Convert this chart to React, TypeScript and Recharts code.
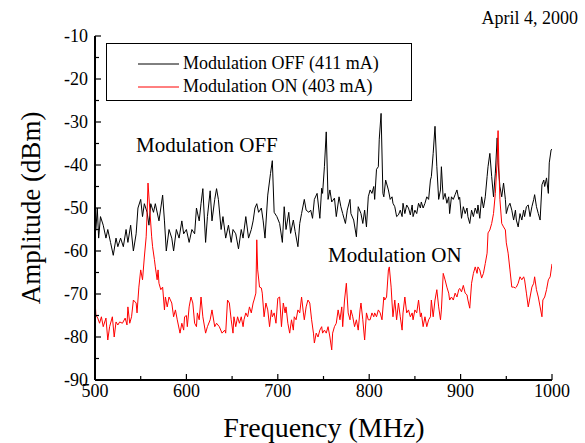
import React from "react";
import { LineChart, Line, XAxis, YAxis, Legend } from "recharts";

// spectrum, modulation off (411 mA)
const offFreq = [
  500, 501, 502.5, 504, 506, 509, 512, 514, 517, 520,
  523, 525, 528, 531, 534, 536, 539, 542, 545, 547,
  550, 552, 554, 557, 559, 561, 564, 566, 570, 574,
  576, 578, 581, 584, 586, 589, 592, 595, 597, 600,
  603, 606, 609, 611, 614, 616, 618, 621, 623, 626,
  628, 631, 633, 635, 638, 640, 643, 646, 649, 651,
  654, 657, 660, 662, 665, 668, 671, 673, 675, 677,
  679, 682, 684, 686, 689, 692, 694, 696, 699, 702,
  705, 707, 709, 712, 714, 717, 719, 722, 724, 726,
  729, 731, 734, 736, 738, 740, 743, 746, 748, 749,
  751, 753, 755, 757, 759, 762, 764, 767, 769, 771,
  774, 776, 779, 780, 783, 786, 788, 791, 793, 795,
  797, 799, 801, 803, 805, 806, 808, 810, 811, 813,
  815, 816, 818, 821, 823, 825, 826, 828, 830, 832,
  834, 836, 837, 839, 841, 843, 845, 847, 848, 850,
  852, 854, 856, 857, 859, 861, 863, 865, 867, 868,
  870, 872, 874, 876, 878, 879, 881, 883, 885, 887,
  888, 890, 892, 894, 896, 898, 899, 901, 903, 905,
  907, 908, 910, 912, 914, 916, 918, 919, 921, 923,
  925, 927, 929, 930, 932, 934, 936, 938, 940, 941,
  943, 945, 947, 949, 950, 952, 954, 956, 958, 960,
  961, 963, 965, 967, 969, 970, 972, 974, 976, 978,
  980, 981, 983, 985, 987, 989, 991, 992, 994, 996,
  997, 999, 1000,
];
const offDbm = [
  -56, -55, -50, -57, -52, -54, -57, -55, -58, -61,
  -57, -59, -57, -59, -55, -58, -54, -60, -56, -50,
  -48, -52, -49, -51, -54, -49, -51, -49, -53, -47,
  -53, -60, -55, -57, -60, -55, -57, -53, -56, -55,
  -58, -55, -56, -50, -53, -49, -45.5, -58, -52, -46,
  -53, -48, -45.5, -48, -55, -52, -57, -54, -58, -55,
  -56, -59.5, -55, -57, -52, -57, -55, -53, -50, -49,
  -51, -50, -53, -57, -47, -42, -39, -51, -52, -53.6,
  -58, -49.7, -55, -51, -55.9, -52.8, -55.5, -59, -53.6, -51.3,
  -48, -50.5, -51, -50.5, -52.4, -48, -46.6, -52.4, -45.4, -46.6,
  -40.4, -32.3, -48, -45.8, -48.6, -47.7, -52, -47.4, -49.7, -51.3,
  -53.6, -50.5, -48, -51.3, -52.8, -56.7, -49.7, -51.3, -53.6, -50.5,
  -54.4, -47.4, -45.8, -46.6, -45, -48, -41, -40.4, -34, -28,
  -46.6, -47.4, -43.5, -45.8, -48, -47.4, -48.9, -49.7, -52, -51.6,
  -50.5, -52, -48.9, -51.3, -49.3, -50, -51.6, -49.3, -52, -50.5,
  -51.3, -48.9, -50, -48.6, -50, -48.9, -47.4, -48, -43.5, -42.7,
  -37.3, -31, -40.4, -48, -45.8, -40.4, -48, -46.6, -48.9, -47.4,
  -51.3, -47.4, -48, -46.9, -45.8, -48, -47.5, -52.4, -49.7, -51.3,
  -50, -52, -53.6, -50.5, -52, -50, -51.3, -49.3, -52.4, -47.4,
  -50, -47.4, -42.7, -40.4, -37.3, -42.7, -47.4, -41.9, -33.7, -39.5,
  -45, -47.4, -44.2, -48, -51.3, -49.7, -48.9, -50.5, -52.8, -50.5,
  -52.8, -54.4, -51.3, -52.8, -50.5, -52, -49.7, -49.3, -52, -49.7,
  -48, -46.9, -49.7, -51.3, -52.8, -44.6, -43.5, -45, -43, -46.6,
  -39.5, -36.5, -36.3,
];

// spectrum, modulation on (403 mA)
const onFreq = [
  500, 501, 503, 505, 507, 509, 512, 514, 516, 519,
  521, 523, 525, 527, 530, 533, 535, 536, 538, 540,
  542, 545, 546, 548, 550, 552, 554, 556, 557, 558,
  560, 562, 563, 565, 566, 568, 569, 570, 572, 574,
  576, 577, 579, 581, 584, 586, 588, 590, 593, 595,
  597, 598, 600, 601, 603, 605, 607, 609, 611, 612,
  614, 616, 618, 621, 623, 626, 628, 631, 633, 636,
  639, 642, 643, 645, 647, 649, 651, 652, 654, 656,
  658, 660, 662, 663, 665, 667, 669, 671, 673, 674,
  676, 677, 678, 680, 682, 683, 685, 687, 689, 691,
  693, 694, 696, 698, 700, 702, 704, 706, 708, 709,
  711, 713, 715, 717, 718, 720, 722, 724, 726, 728,
  729, 731, 733, 735, 737, 739, 740, 742, 744, 746,
  748, 749, 751, 753, 755, 757, 759, 760, 762, 764,
  766, 768, 770, 771, 773, 775, 777, 779, 780, 782,
  784, 786, 788, 790, 791, 793, 795, 797, 799, 801,
  803, 805, 806, 808, 810, 812, 814, 816, 817, 819,
  821, 822, 824, 825, 826, 828, 830, 832, 834, 836,
  837, 839, 841, 843, 845, 847, 848, 850, 852, 854,
  856, 857, 859, 861, 863, 865, 867, 868, 870, 872,
  874, 876, 878, 879, 881, 883, 885, 887, 888, 890,
  892, 894, 896, 898, 899, 901, 903, 905, 907, 908,
  910, 912, 914, 916, 918, 919, 921, 923, 925, 927,
  929, 930, 932, 934, 936, 938, 940, 941, 942, 943,
  945, 947, 949, 950, 952, 954, 956, 958, 960, 961,
  963, 965, 967, 969, 970, 972, 974, 976, 978, 980,
  981, 983, 985, 987, 989, 990, 992, 994, 996, 998,
  1000,
];
const onDbm = [
  -71.4, -74.9, -75.6, -76.8, -75.3, -77.6, -75.6, -80.7, -77.6, -75.3,
  -80, -76.5, -77.2, -76.5, -76.8, -75.6, -77.2, -73, -76.8, -75.3,
  -71.4, -72.1, -74.4, -68.4, -64.4, -66.7, -61.4, -56.7, -51.2, -44.2,
  -50.5, -56.7, -59, -62, -63.7, -66.7, -64.4, -67.5, -69, -68.4,
  -73.7, -70.7, -73, -70.7, -72.1, -75.3, -73.7, -76, -79.1, -76.8,
  -78.4, -75.3, -75, -77.6, -73, -70.7, -72.1, -76.8, -77.6, -74.4,
  -76, -70.7, -75.3, -79.1, -77.6, -76, -73.7, -77.6, -76.8, -77.6,
  -79.1, -78.4, -79.1, -71.4, -72.1, -76, -79.1, -75.3, -77.6, -75.3,
  -76.8, -75.3, -77.6, -76, -74.4, -75.3, -73, -74.4, -72.1, -71.4,
  -69.8, -57.4, -64.4, -68.4, -68.6, -69.8, -75.3, -72.1, -73.7, -77.6,
  -73.7, -75.3, -74.4, -76.8, -71, -70.7, -77.6, -72.1, -74.4, -73,
  -76.8, -79.1, -76, -78.4, -75.3, -76, -73.7, -74.4, -70.7, -74.4,
  -76, -73, -71.4, -72.1, -76, -79.1, -81.4, -79.1, -80, -78.4,
  -77.6, -79.1, -78.4, -79.1, -77.6, -80, -83, -79.1, -77.6, -76.8,
  -73.7, -76, -73, -77.6, -71.4, -67.5, -74.4, -76, -73.7, -75.3,
  -77.6, -76, -78.4, -73.7, -72.1, -76, -80.7, -74.4, -76, -76,
  -74.4, -75.3, -74.4, -75.3, -73.7, -74.4, -76, -70.7, -71.4, -70.7,
  -64.4, -63.7, -68.4, -72.1, -75.3, -71.4, -76, -72.1, -75.3, -78.4,
  -74.4, -70.7, -74.4, -73.7, -75.3, -74.4, -76, -73.7, -74.4, -71.4,
  -75.3, -74.4, -77.6, -75.3, -77.6, -76, -75.3, -71.4, -75.3, -71.4,
  -69, -73, -76, -73.7, -65.2, -66.7, -68.4, -69.8, -71.4, -70.7,
  -71.4, -69.8, -70.7, -69, -68.7, -69.5, -68, -69.8, -70.2, -71.4,
  -73.3, -67.5, -65.2, -63.7, -65.2, -63.7, -64.4, -66.3, -65.2, -62.9,
  -60.5, -55.8, -55.1, -53.6, -51.3, -46.6, -38.9, -32, -41.2, -48,
  -53.6, -54.4, -55.1, -58.1, -60.5, -64.4, -68.4, -68.4, -68.6, -68.4,
  -67.5, -66, -66.7, -66, -66.7, -69.8, -73, -70.7, -68.4, -67.5,
  -66, -69, -70.7, -73, -75.3, -71.4, -70.7, -69, -66.7, -66,
  -63,
];

const xTicks = [500, 550, 600, 650, 700, 750, 800, 850, 900, 950, 1000];
const yTicks = [-90, -85, -80, -75, -70, -65, -60, -55, -50, -45, -40, -35, -30, -25, -20, -15, -10];

const offData = offFreq.map((f, i) => ({ f, v: offDbm[i] }));
const onData = onFreq.map((f, i) => ({ f, v: onDbm[i] }));

const FONT = '"Liberation Serif", "Times New Roman", serif';
const MAJOR = 6;
const MINOR = 4;

// ticks point into the plot on all four sides
function BottomTick(props: any) {
  const { x, y, payload } = props;
  const major = payload.value % 100 === 0;
  return (
    <g>
      <line x1={x} y1={y} x2={x} y2={y - (major ? MAJOR : MINOR)} stroke="#000" strokeWidth={1.2} />
      {major && (
        <text x={x} y={y + 17} textAnchor="middle" fontSize={18} fontFamily={FONT} fill="#000">
          {payload.value}
        </text>
      )}
    </g>
  );
}

function TopTick(props: any) {
  const { x, y, payload } = props;
  const major = payload.value % 100 === 0;
  return <line x1={x} y1={y} x2={x} y2={y + (major ? MAJOR : MINOR)} stroke="#000" strokeWidth={1.2} />;
}

function LeftTick(props: any) {
  const { x, y, payload } = props;
  const major = payload.value % 10 === 0;
  return (
    <g>
      <line x1={x} y1={y} x2={x + (major ? MAJOR : MINOR)} y2={y} stroke="#000" strokeWidth={1.2} />
      {major && (
        <text x={x - 7} y={y + 6} textAnchor="end" fontSize={18} fontFamily={FONT} fill="#000">
          {payload.value}
        </text>
      )}
    </g>
  );
}

function RightTick(props: any) {
  const { x, y, payload } = props;
  const major = payload.value % 10 === 0;
  return <line x1={x} y1={y} x2={x - (major ? MAJOR : MINOR)} y2={y} stroke="#000" strokeWidth={1.2} />;
}

function LegendBox(props: any) {
  const items = props.payload || [];
  return (
    <div
      style={{
        width: 306,
        height: 58,
        boxSizing: "border-box",
        border: "1px solid #000",
        background: "#fff",
        fontFamily: FONT,
        fontSize: 18,
        color: "#000",
        paddingTop: 8,
      }}
    >
      {items.map((it: any) => (
        <div key={it.value} style={{ display: "flex", alignItems: "center", height: 23 }}>
          <svg width={76} height={10}>
            <line x1={31} y1={5} x2={72} y2={5} stroke={it.color} strokeWidth={1} />
          </svg>
          <span>{it.value}</span>
        </div>
      ))}
    </div>
  );
}

export default function App() {
  const axisLine = { stroke: "#000", strokeWidth: 2 };
  return (
    <div style={{ position: "relative", width: 585, height: 443, background: "#fff" }}>
      <style>{"body{margin:0}"}</style>
      <LineChart width={585} height={443} margin={{ top: 36, right: 33, bottom: 0, left: 0 }}>
        <XAxis
          dataKey="f"
          type="number"
          domain={[500, 1000]}
          ticks={xTicks}
          interval={0}
          height={63}
          tickSize={0}
          tickMargin={0}
          axisLine={axisLine}
          tickLine={false}
          tick={BottomTick}
          allowDataOverflow
        />
        <XAxis
          xAxisId="top"
          orientation="top"
          type="number"
          domain={[500, 1000]}
          ticks={xTicks}
          interval={0}
          height={0}
          tickSize={0}
          tickMargin={0}
          axisLine={axisLine}
          tickLine={false}
          tick={TopTick}
          allowDataOverflow
        />
        <YAxis
          type="number"
          domain={[-90, -10]}
          ticks={yTicks}
          interval={0}
          width={95}
          tickSize={0}
          tickMargin={0}
          axisLine={axisLine}
          tickLine={false}
          tick={LeftTick}
          allowDataOverflow
        />
        <YAxis
          yAxisId="right"
          orientation="right"
          type="number"
          domain={[-90, -10]}
          ticks={yTicks}
          interval={0}
          width={0}
          tickSize={0}
          tickMargin={0}
          axisLine={axisLine}
          tickLine={false}
          tick={RightTick}
          allowDataOverflow
        />
        <Legend
          layout="vertical"
          align="center"
          verticalAlign="middle"
          content={LegendBox}
          wrapperStyle={{ left: 106, top: 43, width: 306, height: 58 }}
        />
        <Line
          data={offData}
          dataKey="v"
          name="Modulation OFF (411 mA)"
          stroke="#000000"
          strokeWidth={1}
          dot={false}
          isAnimationActive={false}
        />
        <Line
          data={onData}
          dataKey="v"
          name="Modulation ON (403 mA)"
          stroke="#ff0000"
          strokeWidth={1}
          dot={false}
          isAnimationActive={false}
        />
      </LineChart>
      <svg
        width={585}
        height={443}
        style={{ position: "absolute", left: 0, top: 0, pointerEvents: "none" }}
        fontFamily={FONT}
        fill="#000"
      >
        <text x={578} y={24} textAnchor="end" fontSize={18}>April 4, 2000</text>
        <text x={136} y={152} fontSize={21}>Modulation OFF</text>
        <text x={328} y={262} fontSize={21}>Modulation ON</text>
        <text x={324} y={437} textAnchor="middle" fontSize={28}>Frequency (MHz)</text>
        <text x={40} y={208} textAnchor="middle" fontSize={27} transform="rotate(-90 40 208)">
          Amplitude (dBm)
        </text>
      </svg>
    </div>
  );
}
